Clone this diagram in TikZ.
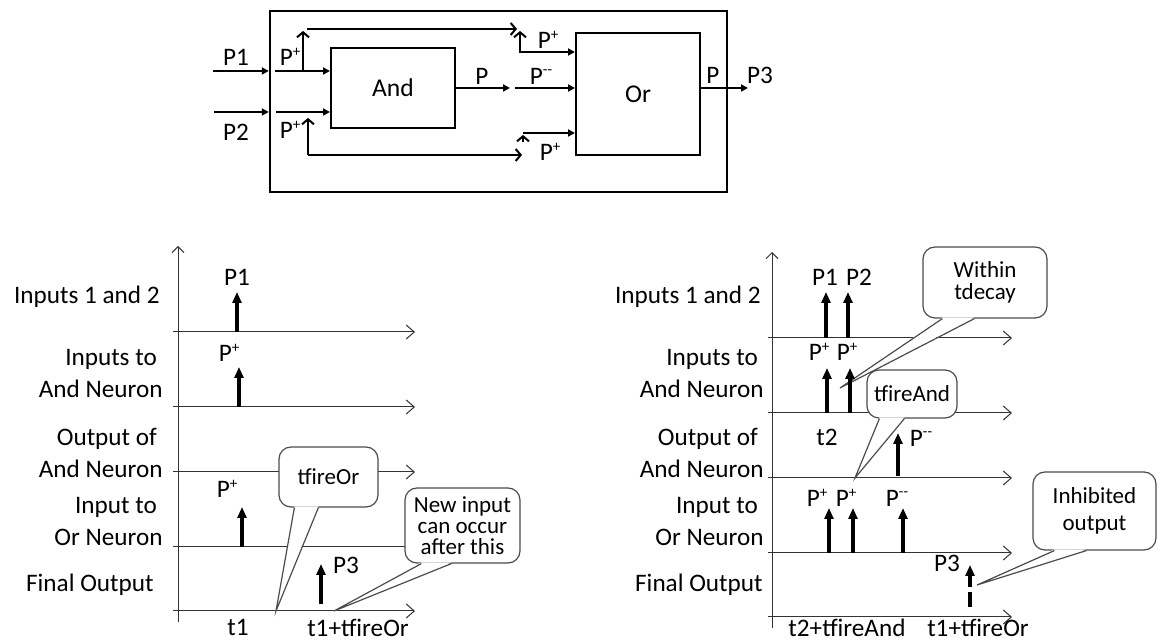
\documentclass[tikz,border=0pt]{standalone}
\usepackage{fontspec}
\setmainfont{Carlito}
\usetikzlibrary{arrows.meta}
\newcommand{\Pplus}{P\raisebox{.72ex}{\fontsize{7.5}{7.5}\selectfont +}}
\newcommand{\Pminus}{P\raisebox{.78ex}{\fontsize{7.5}{7.5}\selectfont -{}-}}

\tikzset{
  lbl/.style={inner sep=0pt,font=\fontsize{12.6}{16}\selectfont},
  blk/.style={draw,line width=1pt,inner sep=0pt,font=\fontsize{12.8}{16}\selectfont},
  wire/.style={line width=1pt},
  fin/.style={wire,-{Triangle[length=3.5pt,width=3.5pt]}},
  barb/.style={wire,-{Straight Barb[length=2.5pt,width=6pt]}},
  yaxis/.style={black!80,line width=0.5pt,-{Straight Barb[length=3pt,width=6pt]}},
  tline/.style={black!80,line width=0.5pt,-{Straight Barb[length=4pt,width=7pt]}},
  pulse/.style={line width=1.6pt,-{Triangle[length=5.5pt,width=4.5pt]}},
  bubble/.style={draw=black!70,line width=0.6pt,rounded corners=6pt,fill=white,inner sep=2pt,align=center,font=\fontsize{11.5}{11}\selectfont},
  pointer/.style={draw=black!70,line width=0.6pt},
}

\begin{document}
\begin{tikzpicture}[x=0.5pt,y=-0.5pt]
  \useasboundingbox (0,0) rectangle (1158,641);

  % neuron block: And feeding Or
  \node[draw,line width=1.2pt,minimum width=228.5pt,minimum height=90.5pt] (frame) at (498.5,101.5) {};
  \node[blk,minimum width=62pt,minimum height=40pt] (andbox) at (393,88) {And};
  \node[blk,minimum width=62pt,minimum height=61pt] (orbox) at (638,94) {Or};

  \coordinate (in1) at (213,71);
  \coordinate (in2) at (214,112);
  \coordinate (s1) at (275,71);
  \coordinate (s2) at (276,112);
  \coordinate (br1) at (303,71);
  \coordinate (br1t) at (303,31);
  \coordinate (hop) at (307,29);
  \coordinate (hopend) at (517,29);
  \coordinate (drop) at (520,31);
  \coordinate (dropk) at (520,52);
  \coordinate (br2) at (308,155);
  \coordinate (br2t) at (308,118);
  \coordinate (lowend) at (522,155);
  \coordinate (lift) at (523,142);
  \coordinate (liftt) at (523,135);
  \coordinate (liftk) at (523,133);
  \coordinate (andout) at (510,88);
  \coordinate (inhib) at (515,88);
  \coordinate (out) at (748,88);

  \draw[fin] (in1) -- (in1 -| frame.west);
  \draw[fin] (in2) -- (in2 -| frame.west);
  \draw[fin] (s1) -- (s1 -| andbox.west);
  \draw[fin] (s2) -- (s2 -| andbox.west);
  \draw[barb] (br1) -- (br1t);
  \draw[barb] (hop) -- (hopend);
  \draw[wire,{Straight Barb[length=2.5pt,width=6pt]}-{Triangle[length=3.5pt,width=3.5pt]}] (drop) -- (dropk) -- (dropk -| orbox.west);
  \draw[barb] (br2) -- (br2t);
  \draw[barb] (br2) -- (lowend);
  \draw[barb] (lift) -- (liftt);
  \draw[fin] (liftk) -- (liftk -| orbox.west);
  \draw[fin] (andbox.east |- andout) -- (andout);
  \draw[fin] (inhib) -- (inhib -| orbox.west);
  \draw[fin] (orbox.east |- out) -- (out);

  \node[lbl] (tp1) at (236,57) {P1};
  \node[lbl] (tp2) at (236,132) {P2};
  \node[lbl] (tpa) at (290,57) {\Pplus};
  \node[lbl] (tpb) at (290,130) {\Pplus};
  \node[lbl] (tpc) at (548,40) {\Pplus};
  \node[lbl] (tpd) at (550,152) {\Pplus};
  \node[lbl] (tpand) at (482,76) {P};
  \node[lbl] (tpinh) at (541,76) {\Pminus};
  \node[lbl] (tpor) at (713,75) {P};
  \node[lbl] (tp3) at (760,75) {P3};

  % left timing chart
  \draw[yaxis] (178,622) -- (178,246);
  \foreach \y in {332,407,472,547,611}
    \draw[tline] (173,\y) -- (415,\y);

  \node[lbl,anchor=east] (la1) at (160,297) {Inputs 1 and 2};
  \node[lbl,anchor=east,align=right] (la2) at (163,374) {Inputs to\hspace*{.23em}\\And Neuron};
  \node[lbl,anchor=east,align=right] (la3) at (163,453) {Output of\hspace*{.23em}\\And Neuron};
  \node[lbl,anchor=east,align=right] (la4) at (163,522) {Input to\hspace*{.23em}\\Or Neuron};
  \node[lbl,anchor=east] (la5) at (154,585) {Final Output};

  \node[bubble,minimum width=49.5pt,minimum height=30pt] (cfo) at (328.5,477) {tfireOr};
  \coordinate (cfotip) at (276,611);
  \fill[white] ([xshift=8pt,yshift=.6pt]cfo.south west) -- (cfotip) -- ([xshift=20pt,yshift=.6pt]cfo.south west) -- cycle;
  \draw[pointer] ([xshift=8pt]cfo.south west) -- (cfotip) -- ([xshift=20pt]cfo.south west);

  \node[bubble,minimum width=57.5pt,minimum height=37.5pt,font=\fontsize{11.5}{10.5}\selectfont] (cnew) at (462.5,525.5) {New input\\can occur\\after this};
  \coordinate (cnewtip) at (334,611);
  \fill[white] ([xshift=8.5pt,yshift=.6pt]cnew.south west) -- (cnewtip) -- ([xshift=23.5pt,yshift=.6pt]cnew.south west) -- cycle;
  \draw[pointer] ([xshift=8.5pt]cnew.south west) -- (cnewtip) -- ([xshift=23.5pt]cnew.south west);

  \foreach \x/\ya/\yb in {237/332/292,239/407/367,242/547/507,321/604/564}
    \draw[pulse] (\x,\ya) -- (\x,\yb);
  \node[lbl] (lp1) at (237,277) {P1};
  \node[lbl] (lpa) at (229,353) {\Pplus};
  \node[lbl] (lpb) at (227,489) {\Pplus};
  \node[lbl] (lp3) at (346,565) {P3};
  \node[lbl] (lt1) at (238,627) {t1};
  \node[lbl] (ltor) at (358,628) {t1+tfireOr};

  % right timing chart
  \draw[yaxis] (772,628) -- (772,252);
  \foreach \y in {338,413,478,553,617}
    \draw[tline] (768,\y) -- (1012,\y);

  \node[lbl,anchor=east] (ra1) at (761,297) {Inputs 1 and 2};
  \node[lbl,anchor=east,align=right] (ra2) at (764,374) {Inputs to\hspace*{.23em}\\And Neuron};
  \node[lbl,anchor=east,align=right] (ra3) at (764,453) {Output of\hspace*{.23em}\\And Neuron};
  \node[lbl,anchor=east,align=right] (ra4) at (764,522) {Input to\hspace*{.23em}\\Or Neuron};
  \node[lbl,anchor=east] (ra5) at (763,585) {Final Output};

  \node[bubble,minimum width=62pt,minimum height=35.5pt] (cdec) at (985,282.5) {Within\\tdecay};
  \coordinate (cdectip) at (840,388);
  \fill[white] ([xshift=10pt,yshift=.6pt]cdec.south west) -- (cdectip) -- ([xshift=26pt,yshift=.6pt]cdec.south west) -- cycle;
  \draw[pointer] ([xshift=10pt]cdec.south west) -- (cdectip) -- ([xshift=26pt]cdec.south west);

  \node[bubble,minimum width=45pt,minimum height=24pt] (cand) at (912,394) {tfireAnd};
  \coordinate (candtip) at (855,478);
  \fill[white] ([xshift=6.5pt,yshift=.6pt]cand.south west) -- (candtip) -- ([xshift=19pt,yshift=.6pt]cand.south west) -- cycle;
  \draw[pointer] ([xshift=6.5pt]cand.south west) -- (candtip) -- ([xshift=19pt]cand.south west);

  \node[bubble,minimum width=61.5pt,minimum height=39pt,font=\fontsize{11.5}{13.5}\selectfont] (cinh) at (1094.5,511) {Inhibited\\output};
  \coordinate (cinhtip) at (977,585);
  \fill[white] ([xshift=11pt,yshift=.6pt]cinh.south west) -- (cinhtip) -- ([xshift=27pt,yshift=.6pt]cinh.south west) -- cycle;
  \draw[pointer] ([xshift=11pt]cinh.south west) -- (cinhtip) -- ([xshift=27pt]cinh.south west);

  \foreach \x/\ya/\yb in {826/338/292,848/338/292,827/413/368,850/413/368,898/476/433,829/553/508,853/553/508,903/553/508}
    \draw[pulse] (\x,\ya) -- (\x,\yb);
  \draw[pulse,dash pattern=on 7.5pt off 2.5pt] (970,607) -- (970,565);
  \node[lbl] (rp1) at (825,277) {P1};
  \node[lbl] (rp2) at (859,277) {P2};
  \node[lbl] (rpa) at (819,352) {\Pplus};
  \node[lbl] (rpb) at (847,352) {\Pplus};
  \node[lbl] (rt2) at (827,437) {t2};
  \node[lbl] (rpm) at (921,438) {\Pminus};
  \node[lbl] (rpc) at (817,498) {\Pplus};
  \node[lbl] (rpd) at (846,498) {\Pplus};
  \node[lbl] (rpe) at (897,498) {\Pminus};
  \node[lbl] (rp3) at (947,563) {P3};
  \node[lbl] (rtand) at (847,628) {t2+tfireAnd};
  \node[lbl] (rtor) at (978,628) {t1+tfireOr};
\end{tikzpicture}
\end{document}
